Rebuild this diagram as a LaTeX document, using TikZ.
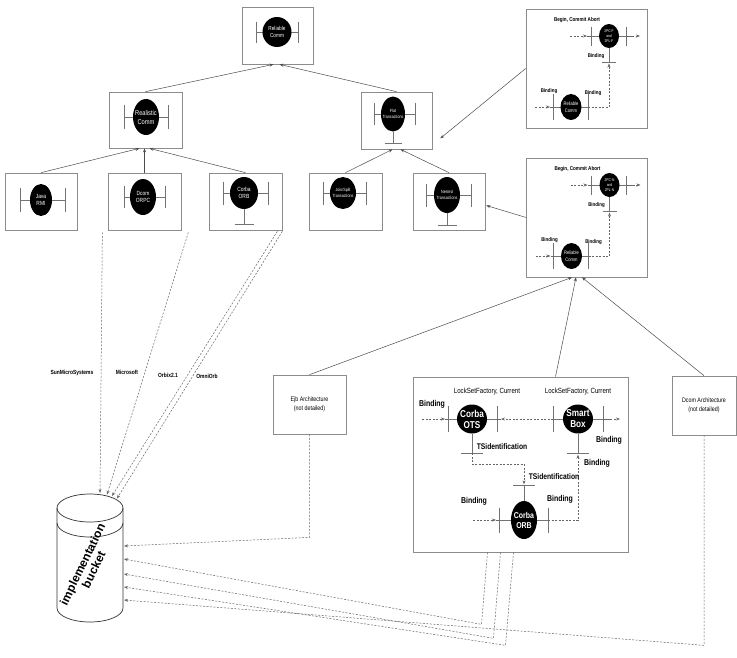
\documentclass[tikz,border=0pt]{standalone}
\usepackage{fontspec}
\setmainfont{Liberation Sans}[FakeStretch=0.82]
\newfontfamily\bkfont{Liberation Sans}
\usetikzlibrary{shapes.geometric,arrows.meta,calc}
\newcommand{\fsz}[2]{\fontsize{#1}{#2}\selectfont}
\newcommand{\compfont}{\fsz{6}{7.5}}
\tikzset{
  cbox/.style={draw=black!45, line width=0.7pt, inner sep=0pt},
  comp/.style={ellipse, fill=black, draw=none, inner sep=0pt},
  ctext/.style={text=white, align=center, inner sep=0pt, font=\compfont},
  barl/.style={draw=black!55, line width=0.8pt},
  stub/.style={draw=black!60, line width=0.5pt},
  conn/.style={draw=black!70, line width=0.5pt, -{Stealth[length=4pt,width=3pt]}},
  dconn/.style={draw=black!60, line width=0.5pt, dash pattern=on 2pt off 1.5pt, -{Stealth[length=4pt,width=3pt]}},
  lbl/.style={inner sep=0pt, text=black, align=center},
  bk/.style={draw=black!80, line width=0.7pt},
}
% name, x, y, w, h, left bar x, right bar x, bar half height, text  (font from \compfont)
\newcommand{\mycomp}[9]{%
  \coordinate (#1L) at (#6,#3);
  \coordinate (#1R) at (#7,#3);
  \draw[barl] (#1L) -- (#1R);
  \draw[barl] ($(#1L)+(0,-#8)$) -- ($(#1L)+(0,#8)$);
  \draw[barl] ($(#1R)+(0,-#8)$) -- ($(#1R)+(0,#8)$);
  \node[comp, minimum width=#4pt, minimum height=#5pt] (#1) at (#2,#3) {};
  \node[ctext] (#1t) at (#1) {#9};
}
\newcommand{\twopc}[2]{%
  \node[cbox, minimum width=121pt, minimum height=119pt] (#1box) at (586.5,68.5) {};
  \node[lbl, font=\bfseries\fsz{5.6}{6}] (#1bca) at (577,20) {Begin, Commit Abort};
  \renewcommand{\compfont}{\fsz{4}{5.3}}%
  \mycomp{#1e}{609}{36}{20}{24}{591}{626}{9.5}{#2}
  \renewcommand{\compfont}{\fsz{5}{7}}%
  \mycomp{#1r}{571}{107}{21}{26}{553}{588}{13}{Reliable\\Comm}
  \coordinate (#1bd) at (609,62);
  \draw[barl] (#1e.south) -- (#1bd);
  \draw[barl] ($(#1bd)+(-7,0)$) -- ($(#1bd)+(7,0)$);
  \node[lbl, font=\bfseries\fsz{5.4}{6}] (#1lb1) at (596,56) {Binding};
  \node[lbl, font=\bfseries\fsz{5.4}{6}] (#1lb2) at (549,91) {Binding};
  \node[lbl, font=\bfseries\fsz{5.4}{6}] (#1lb3) at (593,93) {Binding};
  \coordinate (#1a1) at (570,36);
  \draw[dconn] (#1a1) -- ($(#1eL)+(-4,0)$);
  \draw[stub] ($(#1eL)+(-4,0)$) -- (#1eL);
  \draw[stub] (#1eR) -- ($(#1eR)+(6,0)$);
  \draw[dconn] ($(#1eR)+(6,0)$) -- ($(#1eR)+(14,0)$);
  \coordinate (#1a2) at (535,107);
  \draw[dconn] (#1a2) -- ($(#1rL)+(-3,0)$);
  \draw[stub] ($(#1rL)+(-3,0)$) -- (#1rL);
  \draw[dconn] (#1rR) -- (#1rR -| #1bd) -- ($(#1bd)+(0,1.5)$);
}
\begin{document}
\begin{tikzpicture}[x=1pt,y=-1pt]
\fill[white] (0,0) rectangle (737,657);
\useasboundingbox (0,0) rectangle (737,657);

% ---- boxes of the hierarchy
\node[cbox, minimum width=71pt, minimum height=57pt] (rbox) at (277.5,35.5) {};
\node[cbox, minimum width=73pt, minimum height=56pt] (realbox) at (145.5,120) {};
\node[cbox, minimum width=71pt, minimum height=57pt] (flatbox) at (396.5,120.5) {};
\node[cbox, minimum width=72pt, minimum height=57pt] (javabox) at (41,201.5) {};
\node[cbox, minimum width=73pt, minimum height=57pt] (dcombox) at (144.5,201.5) {};
\node[cbox, minimum width=73pt, minimum height=57pt] (corbabox) at (245.5,201.5) {};
\node[cbox, minimum width=73pt, minimum height=57pt] (jsbox) at (345.5,201.5) {};
\node[cbox, minimum width=72pt, minimum height=57pt] (nestbox) at (449,201.5) {};

\renewcommand{\compfont}{\fsz{5.8}{7.5}}
\mycomp{rc0}{277}{32}{29}{30}{256}{298}{10.5}{Reliable\\Comm}
\renewcommand{\compfont}{\fsz{7}{9}}
\mycomp{realc}{146}{117}{26}{36}{124}{168}{12}{Realistic\\Comm}
\renewcommand{\compfont}{\fsz{4.5}{6}}
\mycomp{flatc}{393}{114}{24}{35}{374}{415}{11}{Flat\\Transactions}
\renewcommand{\compfont}{\fsz{6}{7.5}}
\mycomp{javac}{41}{200}{22}{32}{20}{65}{12}{Java\\RMI}
\mycomp{dcomc}{143}{197}{26}{36}{124}{165}{11}{Dcom\\ORPC}
\mycomp{corbac}{244}{193}{28}{32}{223}{268}{11.5}{Corba\\ORB}
\renewcommand{\compfont}{\fsz{4.5}{6}}
\mycomp{jsc}{343}{193}{26}{32}{323}{366}{11.5}{Join/Split\\Transactions}
\mycomp{nestc}{447}{195}{26}{36}{426}{471}{11.5}{Nested\\Transactions}

% stems
\coordinate (flatb) at ($(flatc.south)+(0,11.5)$);
\draw[barl] (flatc.south) -- (flatb);
\draw[barl] ($(flatb)+(-8.5,0)$) -- ($(flatb)+(8.5,0)$);
\coordinate (corbab) at ($(corbac.south)+(0,15)$);
\draw[barl] (corbac.south) -- (corbab);
\draw[barl] ($(corbab)+(-9.5,0)$) -- ($(corbab)+(9.5,0)$);
\coordinate (nestb) at ($(nestc.south)+(0,12)$);
\draw[barl] (nestc.south) -- (nestb);
\draw[barl] ($(nestb)+(-9.5,0)$) -- ($(nestb)+(9.5,0)$);

% ---- 2PC boxes
\twopc{f}{2PC-F\\and\\2PL-F}
\begin{scope}[shift={(0.5,149)}]
\twopc{n}{2PC-N\\and\\2PL-N}
\end{scope}

% ---- bottom boxes
\node[cbox, minimum width=73pt, minimum height=59pt] (ejbbox) at (309.5,404.5) {};
\node[lbl, font=\fsz{6.5}{9.5}] (ejbt) at (ejbbox) {Ejb Architecture\\(not detailed)};
\node[cbox, minimum width=64pt, minimum height=59pt] (dcomarch) at (704,405.5) {};
\node[lbl, font=\fsz{6.5}{9.5}] (dcomt) at (dcomarch) {Dcom Architecture\\(not detailed)};
\node[cbox, minimum width=215pt, minimum height=175pt] (bigbox) at (520.5,464.5) {};

\renewcommand{\compfont}{\bfseries\fsz{10}{11}}
\mycomp{ots}{472}{419}{30}{29}{448}{497}{13}{Corba\\OTS}
\mycomp{smart}{578}{419}{30}{29}{553}{603}{13}{Smart\\Box}
\renewcommand{\compfont}{\bfseries\fsz{8.5}{10}}
\mycomp{orb}{524}{520}{26}{38}{499}{548}{12.5}{Corba\\ORB}

\coordinate (otsb) at ($(ots.south)+(0,19.5)$);
\draw[barl] (ots.south) -- (otsb);
\draw[barl] ($(otsb)+(-11,0)$) -- ($(otsb)+(11,0)$);
\coordinate (smartb) at ($(smart.south)+(0,19.5)$);
\draw[barl] (smart.south) -- (smartb);
\draw[barl] ($(smartb)+(-11,0)$) -- ($(smartb)+(11,0)$);
\coordinate (orbb) at ($(orb.north)+(0,-15)$);
\draw[barl] (orb.north) -- (orbb);
\draw[barl] ($(orbb)+(-11,0)$) -- ($(orbb)+(11,0)$);

\coordinate (otsin) at (422,419);
\draw[dconn] (otsin) -- ($(otsL)+(-3,0)$);
\draw[stub] ($(otsL)+(-3,0)$) -- (otsL);
\draw[dconn] (smartL) -- ($(otsR)+(4,0)$);
\draw[stub] ($(otsR)+(4,0)$) -- (otsR);
\draw[stub] (smartR) -- ($(smartR)+(7,0)$);
\draw[dconn] ($(smartR)+(7,0)$) -- ($(smartR)+(17,0)$);
\coordinate (orbin) at (473,520);
\draw[dconn] (orbin) -- ($(orbL)+(-3,0)$);
\draw[stub] ($(orbL)+(-3,0)$) -- (orbL);
\draw[dconn] (otsb) -- ++(0,11) -| ($(orbb)+(0,-1.5)$);
\draw[dconn] (orbR) -- (orbR -| smartb) -- ($(smartb)+(0,1.5)$);

\node[lbl, font=\bfseries\fsz{8.5}{9}] (bb1) at (432,404) {Binding};
\node[lbl, font=\fsz{7.5}{8}] (lsf1) at (487,392) {LockSetFactory, Current};
\node[lbl, font=\fsz{7.5}{8}] (lsf2) at (578,392) {LockSetFactory, Current};
\node[lbl, font=\bfseries\fsz{8.2}{9}] (tsi1) at (502,447) {TSidentification};
\node[lbl, font=\bfseries\fsz{8.2}{9}] (tsi2) at (554,477) {TSidentification};
\node[lbl, font=\bfseries\fsz{8.5}{9}] (bb2) at (609,440) {Binding};
\node[lbl, font=\bfseries\fsz{8.5}{9}] (bb3) at (597,463) {Binding};
\node[lbl, font=\bfseries\fsz{8.5}{9}] (bb4) at (474,501) {Binding};
\node[lbl, font=\bfseries\fsz{8.5}{9}] (bb5) at (560,499) {Binding};

% ---- hierarchy connectors
\draw[conn] (realbox.north) -- ($(rbox.south)+(-4,0)$);
\draw[conn] (flatbox.north) -- ($(rbox.south)+(2,0)$);
\draw[conn] (javabox.north) -- ($(realbox.south)+(-6,0)$);
\draw[conn] (dcombox.north) -- (dcombox.north |- realbox.south);
\draw[conn] (corbabox.north) -- ($(realbox.south)+(4,0)$);
\draw[conn] (jsbox.north) -- ($(flatbox.south)+(-4,0)$);
\draw[conn] (nestbox.north) -- ($(flatbox.south)+(4,0)$);
\draw[conn] (fbox.west) -- ($(flatbox.south east)+(8,-11)$);
\draw[conn] (nbox.west) -- ($(nestbox.east)+(1,4)$);
\draw[conn] (ejbbox.north) -- ($(nbox.south)+(-15,0)$);
\draw[conn] ($(bigbox.north)+(35,0)$) -- ($(nbox.south)+(-11,0)$);
\draw[conn] (dcomarch.north) -- ($(nbox.south)+(-5,0)$);

% ---- bucket
\draw[bk] (90,508) ellipse [x radius=33pt, y radius=14pt];
\draw[bk] (57,508) -- (57,608) arc[start angle=180, end angle=360, x radius=33pt, y radius=14pt] -- (123,508);
\draw[bk] (57,523) arc[start angle=180, end angle=360, x radius=33pt, y radius=14pt];
\node[lbl, font=\bkfont\bfseries\fsz{12}{12.5}, rotate=64] (bktext) at (88,567) {implementation\\bucket};

\coordinate (bt1) at (100,493);
\coordinate (bt2) at (107,494.5);
\coordinate (bt3) at (112,496);
\coordinate (bt4) at (117,498.5);
\coordinate (br1) at (124,546);
\coordinate (br2) at (124,559);
\coordinate (br3) at (124,574);
\coordinate (br4) at (124,587);
\coordinate (br5) at (124,600);

\coordinate (sunS) at ($(javabox.south east)+(25,2)$);
\coordinate (msS) at ($(dcombox.south east)+(7,2)$);
\coordinate (oxS) at ($(corbabox.south east)+(-5,1)$);
\coordinate (omS) at ($(corbabox.south east)+(0,1)$);
\draw[dconn] (sunS) -- (bt1);
\draw[dconn] (msS) -- (bt2);
\draw[dconn] (oxS) -- (bt3);
\draw[dconn] (omS) -- (bt4);
\node[lbl, font=\bfseries\fsz{6}{7}] (lsun) at (72,373) {SunMicroSystems};
\node[lbl, font=\bfseries\fsz{6}{7}] (lms) at (127,372) {Microsoft};
\node[lbl, font=\bfseries\fsz{6}{7}] (lox) at (168,375) {Orbix2.1};
\node[lbl, font=\bfseries\fsz{6}{7}] (lom) at (207,376) {OmniOrb};

\draw[dconn] (ejbbox.south) -- ++(0,103) -- (br1);
\draw[dconn] ($(bigbox.south)+(-33,0)$) -- ++(-6,72) -- (br2);
\draw[dconn] ($(bigbox.south)+(-20,0)$) -- ++(-7,86) -- (br3);
\draw[dconn] ($(bigbox.south)+(-7,0)$) -- ++(-8,93) -- (br4);
\draw[dconn] (dcomarch.south) -- ++(0,210) -- (br5);
\end{tikzpicture}
\end{document}
